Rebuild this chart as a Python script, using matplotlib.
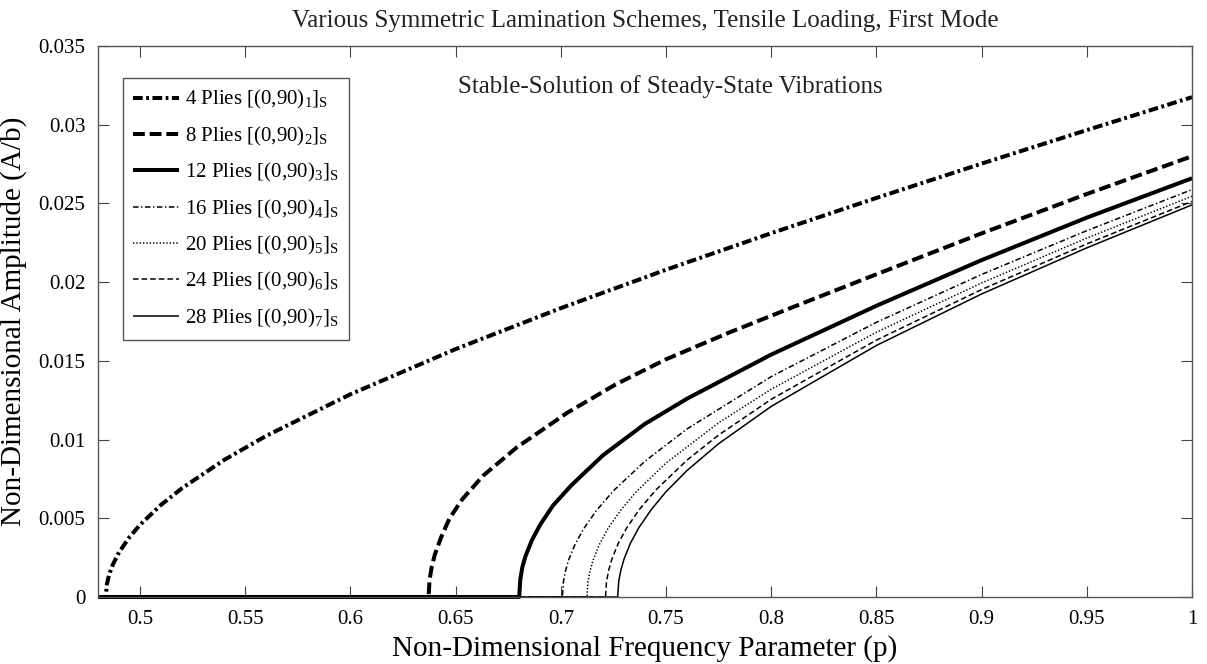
import matplotlib
matplotlib.use("Agg")
import matplotlib.pyplot as plt
from matplotlib.ticker import FuncFormatter

plt.rcParams["font.family"] = ["Liberation Serif", "DejaVu Serif"]
plt.rcParams["mathtext.fontset"] = "custom"
plt.rcParams["mathtext.rm"] = "Liberation Serif"
plt.rcParams["mathtext.it"] = "Liberation Serif:italic"
plt.rcParams["lines.scale_dashes"] = False

# frequency parameter p and amplitude A/b for each lay-up (first mode, tensile load)
p_4 = [0.48, 0.4837, 0.4842, 0.4852, 0.4870, 0.490, 0.495, 0.50, 0.51, 0.52, 0.54,
       0.56, 0.60, 0.65, 0.70, 0.75, 0.80, 0.85, 0.90, 0.95, 1.0]
a_4 = [0.0, 0.0, 0.00080, 0.00138, 0.00205, 0.00284, 0.00381, 0.00459, 0.00586,
       0.00692, 0.00871, 0.01024, 0.01288, 0.01575, 0.01835, 0.02079, 0.02311,
       0.02535, 0.02753, 0.02966, 0.03175]

p_8 = [0.48, 0.6371, 0.6376, 0.6386, 0.6401, 0.6431, 0.6471, 0.6531, 0.663, 0.679,
       0.703, 0.726, 0.75, 0.78, 0.81, 0.85, 0.90, 0.95, 1.0]
a_8 = [0.0, 0.0, 0.0011, 0.0019, 0.0027, 0.0038, 0.0050, 0.0062, 0.0077, 0.0095,
       0.0117, 0.0135, 0.0151, 0.0168, 0.0184, 0.0205, 0.0231, 0.0256, 0.0280]

p_12 = [0.48, 0.6802, 0.6807, 0.6817, 0.6832, 0.6862, 0.6902, 0.6962, 0.705, 0.72,
        0.74, 0.76, 0.80, 0.85, 0.90, 0.95, 1.0]
a_12 = [0.0, 0.0, 0.0011, 0.0019, 0.0026, 0.0036, 0.0046, 0.0058, 0.0071, 0.0090,
        0.0110, 0.0126, 0.0154, 0.0185, 0.0214, 0.0241, 0.0266]

p_16 = [0.48, 0.7007, 0.7012, 0.7022, 0.7037, 0.7067, 0.7107, 0.7167, 0.725, 0.74,
        0.76, 0.80, 0.85, 0.90, 0.95, 1.0]
a_16 = [0.0, 0.0, 0.00096, 0.00166, 0.00236, 0.00333, 0.00431, 0.00546, 0.00675,
        0.00863, 0.01068, 0.01400, 0.01745, 0.02049, 0.02327, 0.02588]

p_20 = [0.48, 0.7124, 0.7129, 0.7139, 0.7154, 0.7184, 0.7224, 0.7284, 0.736, 0.75,
        0.775, 0.80, 0.85, 0.90, 0.95, 1.0]
a_20 = [0.0, 0.0, 0.00097, 0.00168, 0.00237, 0.00336, 0.00435, 0.00551, 0.00671,
        0.00851, 0.01107, 0.01320, 0.01682, 0.01995, 0.02280, 0.02546]

p_24 = [0.48, 0.7212, 0.7217, 0.7227, 0.7242, 0.7272, 0.7312, 0.7372, 0.745, 0.76,
        0.775, 0.80, 0.85, 0.90, 0.95, 1.0]
a_24 = [0.0, 0.0, 0.00098, 0.00169, 0.00239, 0.00338, 0.00437, 0.00554, 0.00678,
        0.00870, 0.01029, 0.01256, 0.01632, 0.01953, 0.02243, 0.02513]

p_28 = [0.48, 0.7270, 0.7275, 0.7285, 0.730, 0.733, 0.737, 0.743, 0.75, 0.76, 0.775,
        0.80, 0.85, 0.90, 0.95, 1.0]
a_28 = [0.0, 0.0, 0.00098, 0.00170, 0.00240, 0.00340, 0.00439, 0.00556, 0.00669,
        0.00804, 0.00974, 0.01211, 0.01598, 0.01925, 0.02218, 0.02491]

labels = [
    r"4 Plies [(0,90)$_1$]$_\mathrm{S}$",
    r"8 Plies [(0,90)$_2$]$_\mathrm{S}$",
    r"12 Plies [(0,90)$_3$]$_\mathrm{S}$",
    r"16 Plies [(0,90)$_4$]$_\mathrm{S}$",
    r"20 Plies [(0,90)$_5$]$_\mathrm{S}$",
    r"24 Plies [(0,90)$_6$]$_\mathrm{S}$",
    r"28 Plies [(0,90)$_7$]$_\mathrm{S}$",
]

xticks = [0.5, 0.55, 0.6, 0.65, 0.7, 0.75, 0.8, 0.85, 0.9, 0.95, 1.0]
yticks = [0, 0.005, 0.01, 0.015, 0.02, 0.025, 0.03, 0.035]

series = [(p_4, a_4), (p_8, a_8), (p_12, a_12), (p_16, a_16),
          (p_20, a_20), (p_24, a_24), (p_28, a_28)]
# thick lines for the thin laminates, thin ones for the rest
styles = [
    dict(lw=2.9, dashes=(7, 2.5, 2, 2.5)),
    dict(lw=2.9, dashes=(8.5, 3.5)),
    dict(lw=2.9, ls="-"),
    dict(lw=1.1, dashes=(4, 1.8, 1, 1.8)),
    dict(lw=1.1, dashes=(1, 1.4)),
    dict(lw=1.1, dashes=(4, 2.2)),
    dict(lw=1.1, ls="-"),
]

fig = plt.figure(figsize=(12.07, 6.64), dpi=100)
ax = fig.add_axes([0.0812, 0.1009, 0.9064, 0.8298])

for (p, a), st, lab in zip(series, styles, labels):
    ax.plot(p, a, color="k", label=lab, clip_on=False, solid_capstyle="butt",
            dash_capstyle="butt", **st)

ax.set_xlim(0.48, 1.0)
ax.set_ylim(0, 0.035)
ax.set_xticks(xticks)
ax.set_yticks(yticks)
ax.xaxis.set_major_formatter(FuncFormatter(lambda v, _: f"{v:g}"))
ax.yaxis.set_major_formatter(FuncFormatter(lambda v, _: f"{v:g}"))
ax.tick_params(direction="in", length=8, width=0.8, top=True, right=True,
               labelsize=15, color="#444444", pad=9)
for s in ax.spines.values():
    s.set_color("#555555")
    s.set_linewidth(1.0)

ax.set_title("Various Symmetric Lamination Schemes, Tensile Loading, First Mode",
             fontsize=18, pad=14, color="#222222")
ax.set_xlabel("Non-Dimensional Frequency Parameter (p)", fontsize=21, labelpad=5)
ax.set_ylabel("Non-Dimensional Amplitude (A/b)", fontsize=21, labelpad=8)

ax.text(0.651, 0.0324, "Stable-Solution of Steady-State Vibrations", fontsize=18,
        va="center", ha="left", color="#222222")

leg = ax.legend(loc="upper left", bbox_to_anchor=(0.0229, 0.942), fontsize=15,
                handlelength=2.2, handletextpad=0.25, labelspacing=0.64,
                borderpad=0.5, borderaxespad=0.0, fancybox=False, framealpha=1)
leg.get_frame().set_edgecolor("#555555")
leg.get_frame().set_linewidth(1.0)

fig.savefig("out.png", dpi=100)
